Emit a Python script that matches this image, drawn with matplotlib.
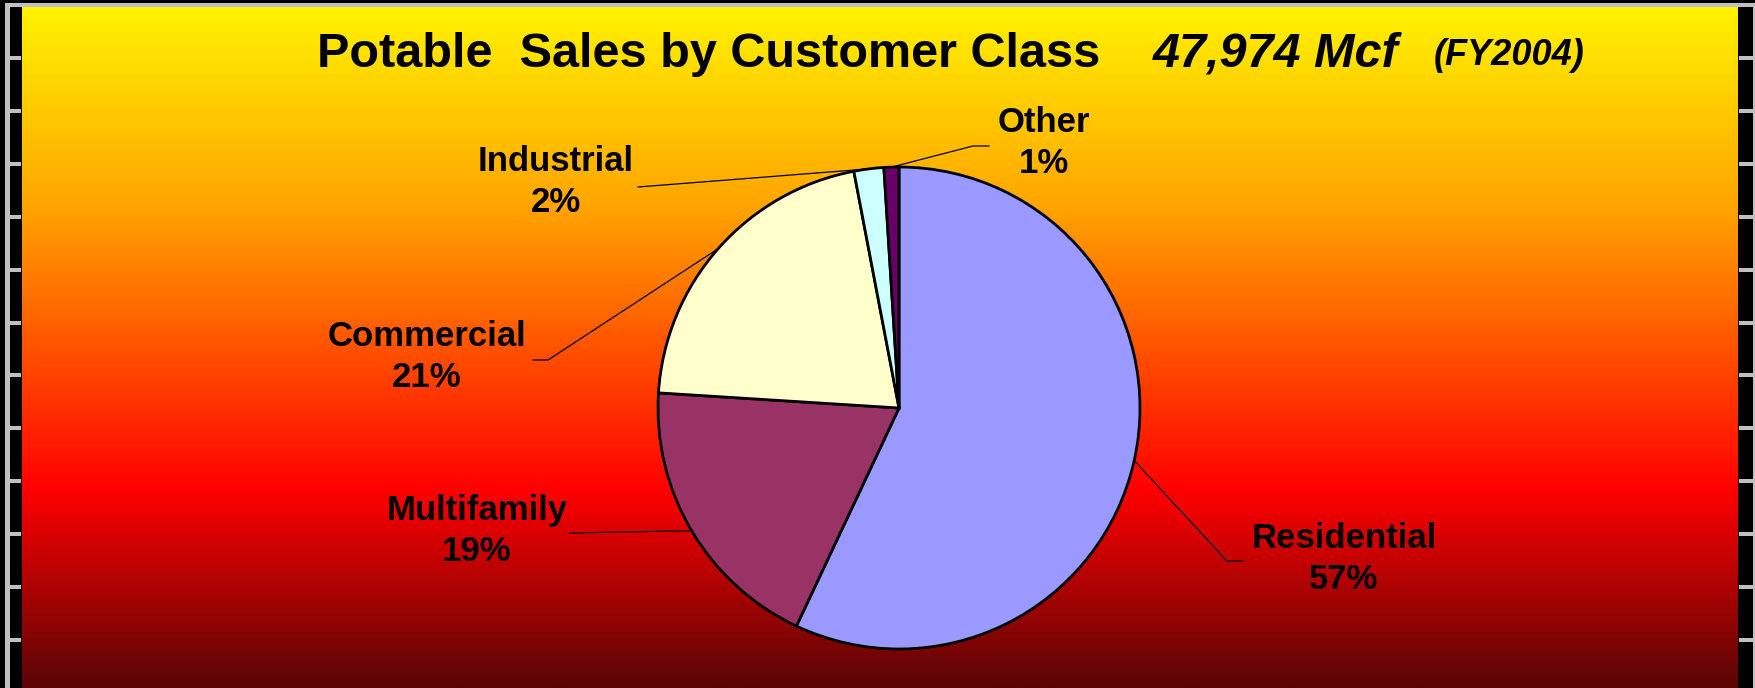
import numpy as np
import matplotlib.pyplot as plt
from matplotlib.colors import LinearSegmentedColormap

# dane
kategorie = ['Residential', 'Multifamily', 'Commercial', 'Industrial', 'Other']
udzialy = [57, 19, 21, 2, 1]
kolory = ['#9999FF', '#993366', '#FFFFCC', '#CCFFFF', '#660066']

W, H = 1756, 688
def Y(y):
    # piksele liczone od gory -> wspolrzedne osi
    return H - y

fig = plt.figure(figsize=(W / 100, H / 100), dpi=100, facecolor='black')
ax = fig.add_axes([0, 0, 1, 1])

# tlo z gradientem
grad = LinearSegmentedColormap.from_list('tlo', [(0, '#FFF200'), (0.29, '#FFA500'),
                                                 (0.71, '#FF0000'), (1, '#5A0505')])
g = np.linspace(0, 1, 400).reshape(-1, 1)
ax.imshow(g, cmap=grad, aspect='auto', extent=[22, 1738, Y(688), Y(7)], zorder=0)

# ramka
szary = '#C0C0C0'
ax.add_patch(plt.Rectangle((5, Y(7)), W - 5, 4, color=szary, lw=0))
ax.add_patch(plt.Rectangle((5, 0), 5, Y(3), color=szary, lw=0))
ax.add_patch(plt.Rectangle((1753, 0), 3, Y(3), color=szary, lw=0))
for k in range(12):
    yt = 58 + 52.9 * k
    ax.add_patch(plt.Rectangle((10, Y(yt) - 2), 11, 4, color=szary, lw=0))
    ax.add_patch(plt.Rectangle((1739, Y(yt) - 2), 14, 4, color=szary, lw=0))

# wykres kolowy
srodek = (899, Y(408))
r = 241
wedges, _ = ax.pie(udzialy, colors=kolory, startangle=90, counterclock=False,
                   center=srodek, radius=r,
                   wedgeprops=dict(edgecolor='black', linewidth=2))
for w in wedges:
    w.set_zorder(2)

# etykiety i linie odniesienia
etykiety_xy = [(1344, 559), (477, 531), (427, 357), (556, 182), (1044, 143)]
lokcie = [[(1227, 561), (1243, 561)], [(570, 533)], [(548, 360), (533, 360)],
          [(638, 187)], [(973, 146), (989, 146)]]
font = dict(family='Liberation Sans', weight='bold', size=25)
for w, nazwa, v, (lx, ly), lok in zip(wedges, kategorie, udzialy, etykiety_xy, lokcie):
    kat = np.deg2rad((w.theta1 + w.theta2) / 2)
    px = srodek[0] + r * np.cos(kat)
    py = srodek[1] + r * np.sin(kat)
    xs = [px] + [p[0] for p in lok]
    ys = [py] + [Y(p[1]) for p in lok]
    ax.plot(xs, ys, color='black', lw=0.9, zorder=3)
    ax.text(lx, Y(ly), f'{nazwa}\n{v}%', ha='center', va='center',
            linespacing=1.3, zorder=4, **font)

# tytul
ax.text(317, Y(67), 'Potable  Sales by Customer Class', ha='left', va='baseline',
        family='Liberation Sans', weight='bold', size=35)
ax.text(1153, Y(67), '47,974 Mcf', ha='left', va='baseline',
        family='Liberation Sans', weight='bold', style='italic', size=35)
ax.text(1434, Y(65), '(FY2004)', ha='left', va='baseline',
        family='Liberation Sans', weight='bold', style='italic', size=26)

ax.set_xlim(0, W)
ax.set_ylim(0, H)
ax.set_aspect('auto')
ax.axis('off')

fig.savefig('out.png', dpi=100, facecolor='black')
